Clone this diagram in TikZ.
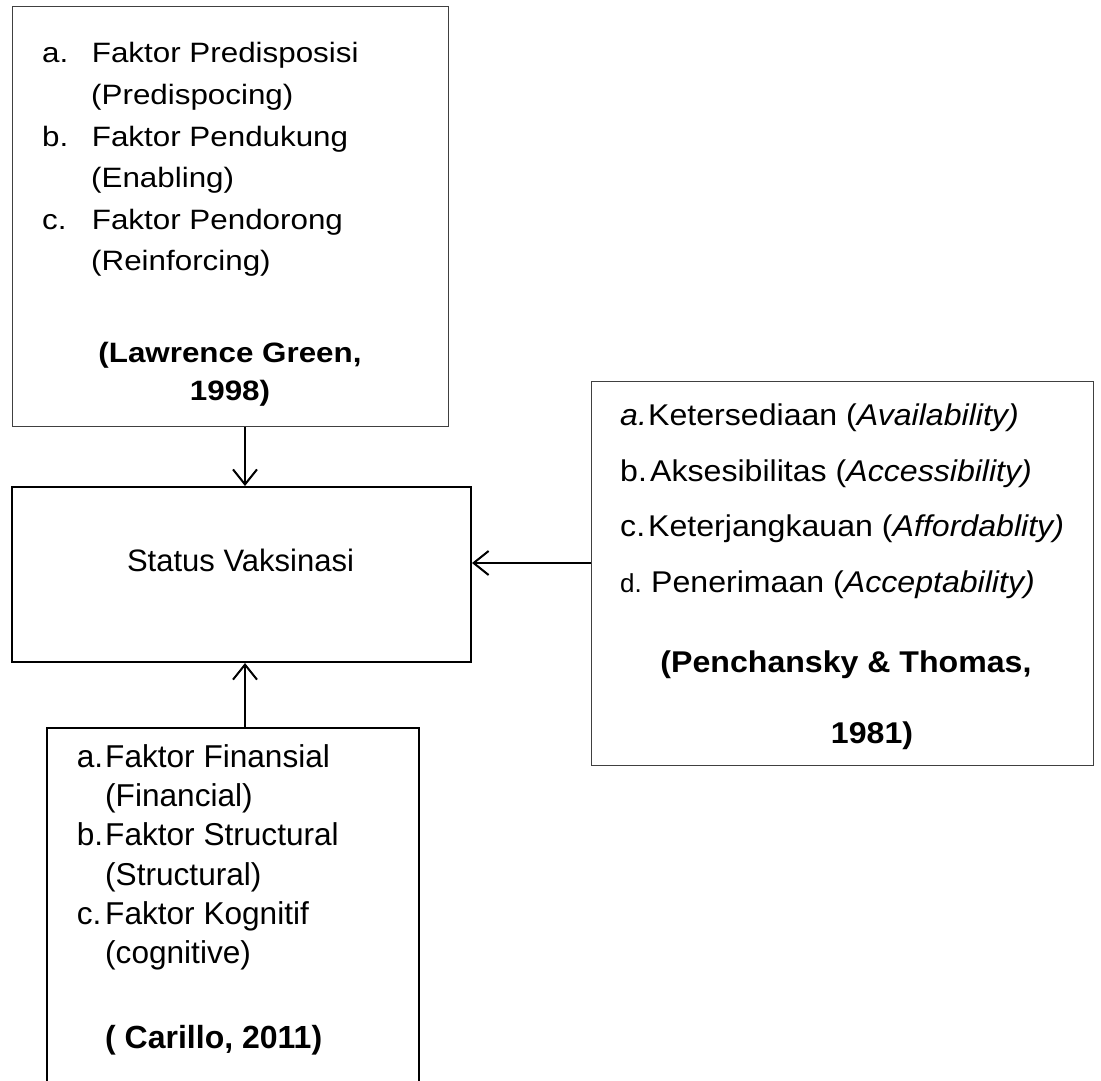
\documentclass[tikz,border=0pt]{standalone}
\usepackage{fontspec}
\setmainfont{Liberation Sans}
\usetikzlibrary{arrows.meta}
\begin{document}
\begin{tikzpicture}[x=1pt,y=-1pt,
  thinbox/.style={draw=black!75, line width=1.2pt, inner sep=0pt, anchor=north west},
  thickbox/.style={draw=black, line width=2pt, inner sep=0pt, anchor=north west},
  conn/.style={line width=2pt, -{Straight Barb[length=15pt,width=24pt,line width=2pt]}},
  txt/.style={inner sep=0pt, anchor=base west},
  ctxt/.style={inner sep=0pt, anchor=base},
  fa/.style={font=\fontsize{28}{34}\selectfont},
  fb/.style={font=\fontsize{30}{36}\selectfont},
  fc/.style={font=\fontsize{31.6}{36}\selectfont},
]
\useasboundingbox (0,0) rectangle (1101,1081);
\clip (0,0) rectangle (1101,1081);

% boxes
\node[thinbox, minimum width=436pt, minimum height=420pt] (green) at (12,6) {};
\node[thickbox, minimum width=459pt, minimum height=175pt] (status) at (11,486) {};
\node[thinbox, minimum width=502pt, minimum height=384pt] (pench) at (591,381) {};
\node[thickbox, minimum width=372pt, minimum height=380pt] (carillo) at (46,727) {};

% status text
\node[ctxt, font=\fontsize{31}{36}\selectfont] (st) at (240.5,571) {Status Vaksinasi};

% connectors
\coordinate (ax) at (245,0);
\coordinate (ay) at (0,563);
\draw[conn] (ax |- green.south) -- (ax |- status.north);
\draw[conn] (pench.west |- ay) -- (status.east |- ay);
\draw[conn] (ax |- carillo.north) -- (ax |- status.south);

% top box text
\node[txt, fa] (g1l) at (42,63) {\scalebox{1.12}[1]{a.}};
\node[txt, fa] (g1) at (91.7,63) {\scalebox{1.12}[1]{Faktor Predisposisi}};
\node[txt, fa] (g2) at (91,104.5) {\scalebox{1.12}[1]{(Predispocing)}};
\node[txt, fa] (g3l) at (42,146) {\scalebox{1.12}[1]{b.}};
\node[txt, fa] (g3) at (91.7,146) {\scalebox{1.12}[1]{Faktor Pendukung}};
\node[txt, fa] (g4) at (91,187.5) {\scalebox{1.12}[1]{(Enabling)}};
\node[txt, fa] (g5l) at (42,229) {\scalebox{1.12}[1]{c.}};
\node[txt, fa] (g5) at (91.7,229) {\scalebox{1.12}[1]{Faktor Pendorong}};
\node[txt, fa] (g6) at (91,270.5) {\scalebox{1.12}[1]{(Reinforcing)}};
\node[ctxt, fa] (g7) at (230,362) {\scalebox{1.12}[1]{\bfseries (Lawrence Green,}};
\node[ctxt, fa] (g8) at (230,400) {\scalebox{1.12}[1]{\bfseries 1998)}};

% right box text
\node[txt, fb] (p1l) at (620,425) {\scalebox{1.07}[1]{\itshape a.}};
\node[txt, fb] (p1) at (648,425) {\scalebox{1.07}[1]{Ketersediaan (\textit{Availability)}}};
\node[txt, fb] (p2l) at (620,481) {\scalebox{1.07}[1]{b.}};
\node[txt, fb] (p2) at (650,481) {\scalebox{1.07}[1]{Aksesibilitas (\textit{Accessibility)}}};
\node[txt, fb] (p3l) at (620,536) {\scalebox{1.07}[1]{c.}};
\node[txt, fb] (p3) at (648,536) {\scalebox{1.07}[1]{Keterjangkauan (\textit{Affordablity)}}};
\node[txt, font=\fontsize{26}{30}\selectfont] (p4l) at (620,592) {d.};
\node[txt, fb] (p4) at (651,592) {\scalebox{1.07}[1]{Penerimaan (\textit{Acceptability)}}};
\node[ctxt, fb] (p5) at (846,672) {\scalebox{1.07}[1]{\bfseries (Penchansky \& Thomas,}};
\node[ctxt, fb] (p6) at (872,743) {\scalebox{1.07}[1]{\bfseries 1981)}};

% bottom box text
\node[txt, fc] (c1l) at (76.7,767) {a.};
\node[txt, fc] (c1) at (105,767) {Faktor Finansial};
\node[txt, fc] (c2) at (105,806) {(Financial)};
\node[txt, fc] (c3l) at (76.7,845.5) {b.};
\node[txt, fc] (c3) at (105,845.5) {Faktor Structural};
\node[txt, fc] (c4) at (105,885) {(Structural)};
\node[txt, fc] (c5l) at (76.7,924.5) {c.};
\node[txt, fc] (c5) at (105,924.5) {Faktor Kognitif};
\node[txt, fc] (c6) at (105,963.5) {(cognitive)};
\node[txt, font=\fontsize{32}{36}\selectfont\bfseries] (c7) at (105,1048) {( Carillo, 2011)};
\end{tikzpicture}
\end{document}
